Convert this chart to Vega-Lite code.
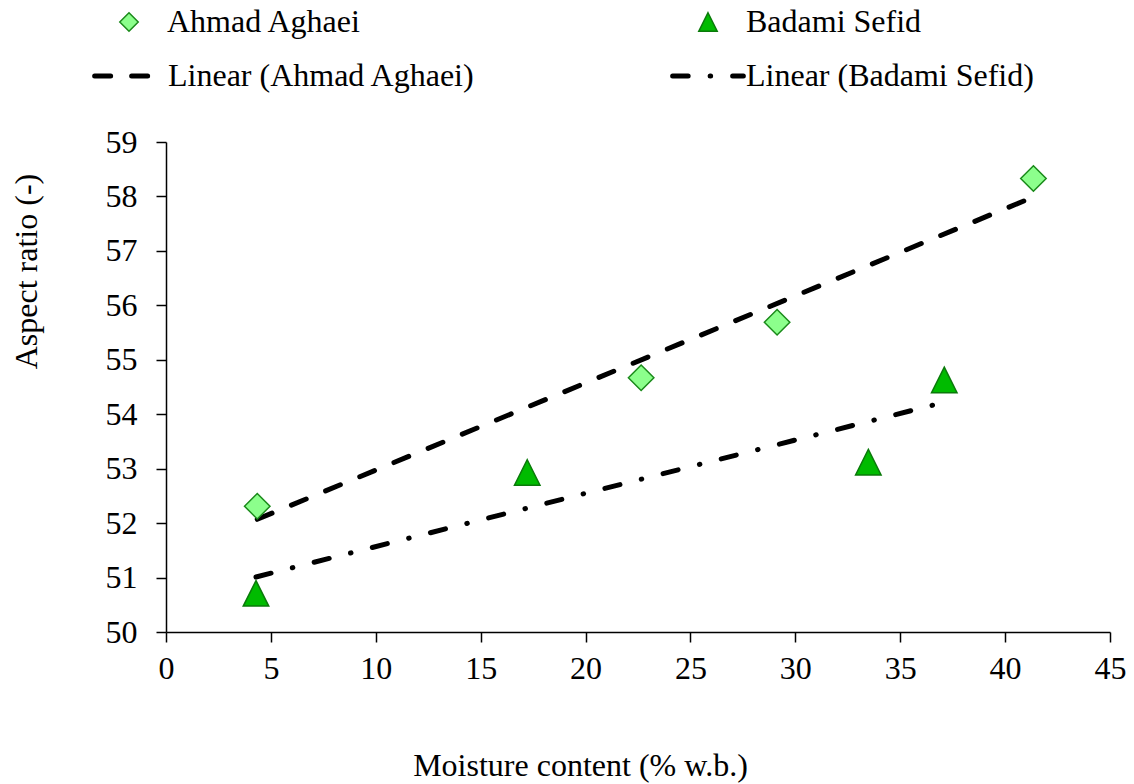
{
  "$schema": "https://vega.github.io/schema/vega-lite/v6.json",
  "width": 944,
  "height": 490,
  "autosize": {"type": "none"},
  "padding": {"left": 166, "top": 142, "right": 24, "bottom": 152},
  "background": "white",
  "config": {
    "view": {"stroke": null},
    "font": "'Liberation Serif', serif",
    "axis": {
      "grid": false,
      "domainColor": "black",
      "domainWidth": 1.5,
      "tickColor": "black",
      "tickWidth": 1.5,
      "tickSize": 10,
      "labelFlush": false,
      "labelFont": "'Liberation Serif', serif",
      "labelFontSize": 32,
      "labelColor": "black",
      "titleFont": "'Liberation Serif', serif",
      "titleFontSize": 32,
      "titleFontWeight": "normal",
      "titleColor": "black"
    },
    "legend": {
      "labelFont": "'Liberation Serif', serif",
      "labelFontSize": 32,
      "labelColor": "black",
      "labelLimit": 0,
      "padding": 0
    }
  },
  "datasets": {
    "observed": [
      {"variety": "Ahmad Aghaei", "moisture": 4.35, "ratio": 52.31},
      {"variety": "Ahmad Aghaei", "moisture": 22.65, "ratio": 54.67},
      {"variety": "Ahmad Aghaei", "moisture": 29.13, "ratio": 55.69},
      {"variety": "Ahmad Aghaei", "moisture": 41.35, "ratio": 58.33},
      {"variety": "Badami Sefid", "moisture": 4.29, "ratio": 50.71},
      {"variety": "Badami Sefid", "moisture": 17.22, "ratio": 52.93},
      {"variety": "Badami Sefid", "moisture": 33.48, "ratio": 53.12},
      {"variety": "Badami Sefid", "moisture": 37.1, "ratio": 54.63}
    ],
    "trend": [
      {"fit": "Linear (Ahmad Aghaei)", "moisture": 4.35, "ratio": 52.07},
      {"fit": "Linear (Ahmad Aghaei)", "moisture": 41.35, "ratio": 57.99},
      {"fit": "Linear (Badami Sefid)", "moisture": 4.29, "ratio": 51.01},
      {"fit": "Linear (Badami Sefid)", "moisture": 37.1, "ratio": 54.22}
    ]
  },
  "encoding": {
    "x": {
      "field": "moisture",
      "type": "quantitative",
      "scale": {"domain": [0, 45], "nice": false, "zero": false},
      "axis": {
        "values": [0, 5, 10, 15, 20, 25, 30, 35, 40, 45],
        "title": "Moisture content (% w.b.)",
        "labelBaseline": "alphabetic",
        "labelPadding": 36,
        "titleX": 414,
        "titleY": 143,
        "titleAlign": "center",
        "titleBaseline": "alphabetic"
      }
    },
    "y": {
      "field": "ratio",
      "type": "quantitative",
      "scale": {"domain": [50, 59], "nice": false, "zero": false},
      "axis": {
        "values": [50, 51, 52, 53, 54, 55, 56, 57, 58, 59],
        "title": "Aspect ratio (-)",
        "labelPadding": 19,
        "labelBaseline": "middle",
        "titleAngle": -90,
        "titleX": -130,
        "titleY": 129,
        "titleAlign": "center",
        "titleBaseline": "alphabetic"
      }
    }
  },
  "layer": [
    {
      "data": {"name": "trend"},
      "mark": {"type": "line", "color": "black", "strokeWidth": 5, "strokeCap": "round"},
      "encoding": {
        "strokeDash": {
          "field": "fit",
          "type": "nominal",
          "scale": {
            "domain": ["Linear (Ahmad Aghaei)", "Linear (Badami Sefid)"],
            "range": [[16, 21], [15.5, 22, 0.5, 22]]
          },
          "legend": {
            "orient": "none",
            "legendX": -74,
            "legendY": -104,
            "columns": 2,
            "columnPadding": 186,
            "rowPadding": 0,
            "title": null,
            "symbolType": "stroke",
            "symbolSize": 5000,
            "symbolStrokeWidth": 5,
            "symbolStrokeColor": "black",
            "labelOffset": 0,
            "encode": {"symbols": {"update": {"strokeCap": {"value": "round"}}}}
          }
        }
      }
    },
    {
      "data": {"name": "observed"},
      "mark": {"type": "point", "filled": true, "size": 650, "strokeWidth": 1.5, "opacity": 1},
      "encoding": {
        "shape": {
          "field": "variety",
          "type": "nominal",
          "scale": {"domain": ["Ahmad Aghaei", "Badami Sefid"], "range": ["diamond", "M0,-1L1,1L-1,1Z"]},
          "legend": {
            "orient": "none",
            "legendX": -53,
            "legendY": -136,
            "columns": 2,
            "columnPadding": 330,
            "rowPadding": 0,
            "title": null,
            "symbolSize": 340,
            "symbolStrokeWidth": 1.5,
            "labelOffset": 22
          }
        },
        "fill": {
          "field": "variety",
          "type": "nominal",
          "scale": {"domain": ["Ahmad Aghaei", "Badami Sefid"], "range": ["#8cff8c", "#00bb00"]}
        },
        "stroke": {
          "field": "variety",
          "type": "nominal",
          "scale": {"domain": ["Ahmad Aghaei", "Badami Sefid"], "range": ["#1a8a1a", "#0a7a0a"]}
        }
      }
    }
  ]
}
